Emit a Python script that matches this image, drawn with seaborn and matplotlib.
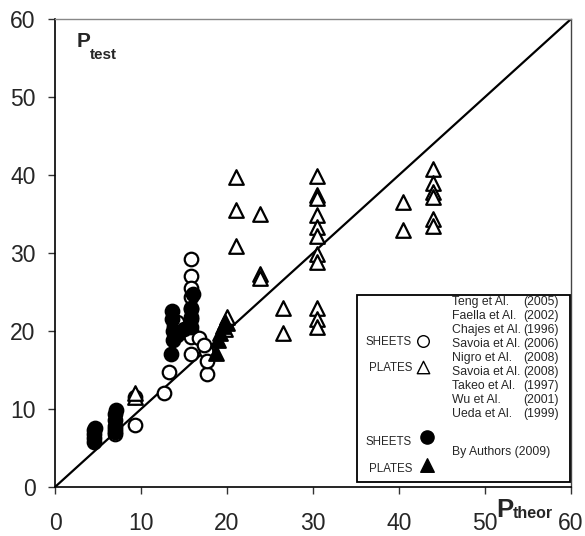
import matplotlib
matplotlib.use("Agg")
import matplotlib.pyplot as plt
import seaborn as sns
import pandas as pd
from matplotlib.patches import Rectangle

# ---------------- data ----------------
open_circle_x = [7.0, 7.0, 9.3, 9.3, 12.7, 13.2, 13.8, 14.2, 15.8, 15.8, 15.8, 15.8, 15.8,
                 15.8, 15.8, 15.8, 15.8, 16.8, 17.5, 17.7, 17.7, 17.3]
open_circle_y = [6.8, 7.4, 7.9, 11.6, 12.1, 14.7, 20.6, 21.2, 29.2, 27.0, 25.5, 24.3, 23.0,
                 21.5, 20.0, 17.0, 19.2, 19.1, 17.5, 14.5, 16.2, 18.2]

filled_circle_x = [4.5, 4.5, 4.5, 4.5, 4.6, 7.0, 7.0, 7.0, 7.0, 7.1, 13.5, 13.7, 13.7, 13.6,
                   13.6, 14.2, 15.8, 15.8, 15.8, 16.0, 15.0]
filled_circle_y = [5.8, 6.3, 6.8, 7.3, 7.6, 7.0, 7.8, 8.6, 9.3, 9.9, 17.0, 18.8, 20.0, 21.5,
                   22.6, 19.5, 20.5, 21.8, 22.8, 24.8, 20.3]

open_tri_x = [9.3, 9.3, 19.8, 20.0, 20.0, 21.0, 21.0, 21.0, 23.8, 23.8, 23.8, 26.5, 26.5,
              30.5, 30.5, 30.5, 30.5, 30.5, 30.5, 30.5, 30.5, 30.5, 30.5, 30.5,
              40.5, 40.5, 44.0, 44.0, 44.0, 44.0, 44.0, 44.0]
open_tri_y = [11.6, 12.0, 20.3, 21.0, 21.8, 39.8, 35.5, 30.9, 35.0, 27.3, 26.8, 22.9, 19.7,
              39.9, 37.5, 37.0, 34.9, 33.3, 32.2, 29.9, 28.9, 22.9, 21.6, 20.5,
              36.6, 33.0, 40.8, 39.0, 37.8, 37.2, 34.4, 33.4]

filled_tri_x = [18.7, 19.0, 19.2, 19.5, 19.8]
filled_tri_y = [17.2, 18.9, 19.8, 20.6, 21.2]

axis_limits = [0, 60]
tick_values = [0, 10, 20, 30, 40, 50, 60]

literature_names = ["Teng et Al.", "Faella et Al.", "Chajes et Al.", "Savoia et Al.",
                    "Nigro et Al.", "Savoia et Al.", "Takeo et Al.", "Wu et Al.", "Ueda et Al."]
literature_years = ["(2005)", "(2002)", "(1996)", "(2006)", "(2008)", "(2008)", "(1997)",
                    "(2001)", "(1999)"]

# ---------------- style ----------------
sns.set_style("ticks")
plt.rcParams["font.family"] = ["Liberation Sans", "DejaVu Sans"]

fig = plt.figure(figsize=(5.85, 5.36), dpi=100)
ax = fig.add_axes([55 / 585, 49 / 536, 516 / 585, 468 / 536])

# diagonal y = x
ax.plot(axis_limits, axis_limits, color="black", lw=1.6, zorder=1)

ms_circle = 95
ms_tri = 110
lw_m = 1.6

sns.scatterplot(x=open_circle_x, y=open_circle_y, marker="o", s=ms_circle, color="white",
                edgecolor="black", linewidth=lw_m, ax=ax, zorder=3)
sns.scatterplot(x=open_tri_x, y=open_tri_y, marker="^", s=ms_tri, color="white",
                edgecolor="black", linewidth=lw_m, ax=ax, zorder=3)
sns.scatterplot(x=filled_circle_x, y=filled_circle_y, marker="o", s=ms_circle, color="black",
                edgecolor="black", linewidth=lw_m, ax=ax, zorder=4)
sns.scatterplot(x=filled_tri_x, y=filled_tri_y, marker="^", s=ms_tri, color="black",
                edgecolor="black", linewidth=lw_m, ax=ax, zorder=4)

ax.set_xlim(axis_limits)
ax.set_ylim(axis_limits)
ax.set_xticks(tick_values)
ax.set_yticks(tick_values)
ax.set_xticklabels([str(v) for v in tick_values])
ax.set_yticklabels([str(v) for v in tick_values])
ax.tick_params(axis="both", labelsize=16.5, length=5, width=1, direction="out", color="#333333")
ax.tick_params(axis="x", pad=13)
ax.tick_params(axis="y", pad=9)
ax.set_xlabel("")
ax.set_ylabel("")

for side in ["left", "bottom"]:
    ax.spines[side].set_linewidth(1.2)
    ax.spines[side].set_color("black")
ax.spines["top"].set_visible(True)
ax.spines["right"].set_visible(True)
ax.spines["top"].set_color("#888888")
ax.spines["top"].set_linewidth(1.0)
ax.spines["right"].set_color("#444444")
ax.spines["right"].set_linewidth(1.0)

# axis titles
ax.text(0.041, 0.940, "P", transform=ax.transAxes, fontsize=15, fontweight="bold",
        ha="left", va="baseline")
ax.text(0.068, 0.914, "test", transform=ax.transAxes, fontsize=11, fontweight="bold",
        ha="left", va="baseline")
ax.text(0.856, -0.064, "P", transform=ax.transAxes, fontsize=18.5, fontweight="bold",
        ha="left", va="baseline", clip_on=False)
ax.text(0.888, -0.066, "theor", transform=ax.transAxes, fontsize=11.5, fontweight="bold",
        ha="left", va="baseline", clip_on=False)

# legend box
box = Rectangle((0.585, 0.011), 0.413, 0.399, transform=ax.transAxes, facecolor="white",
                edgecolor="black", linewidth=1.3, zorder=6)
ax.add_patch(box)

fs_leg = 8.8
name_x = 0.769
year_x = 0.977
top_y = 0.388
step = 0.0297
for i, (n, yr) in enumerate(zip(literature_names, literature_years)):
    yy = top_y - i * step
    ax.text(name_x, yy, n, transform=ax.transAxes, fontsize=fs_leg, ha="left",
            va="baseline", zorder=7)
    ax.text(year_x, yy, yr, transform=ax.transAxes, fontsize=fs_leg, ha="right",
            va="baseline", zorder=7)

ax.text(0.692, 0.303, "SHEETS", transform=ax.transAxes, fontsize=8.3, ha="right",
        va="baseline", zorder=7)
ax.text(0.692, 0.247, "PLATES", transform=ax.transAxes, fontsize=8.3, ha="right",
        va="baseline", zorder=7)
ax.text(0.692, 0.089, "SHEETS", transform=ax.transAxes, fontsize=8.3, ha="right",
        va="baseline", zorder=7)
ax.text(0.692, 0.033, "PLATES", transform=ax.transAxes, fontsize=8.3, ha="right",
        va="baseline", zorder=7)
ax.text(name_x, 0.068, "By Authors (2009)", transform=ax.transAxes, fontsize=fs_leg,
        ha="left", va="baseline", zorder=7)

ax.scatter([0.713], [0.311], marker="o", s=70, facecolor="white", edgecolor="black",
           linewidth=1.0, transform=ax.transAxes, zorder=8, clip_on=False)
ax.scatter([0.713], [0.257], marker="^", s=80, facecolor="white", edgecolor="black",
           linewidth=1.0, transform=ax.transAxes, zorder=8, clip_on=False)
ax.scatter([0.721], [0.106], marker="o", s=90, facecolor="black", edgecolor="black",
           linewidth=1.0, transform=ax.transAxes, zorder=8, clip_on=False)
ax.scatter([0.721], [0.048], marker="^", s=95, facecolor="black", edgecolor="black",
           linewidth=1.0, transform=ax.transAxes, zorder=8, clip_on=False)

fig.savefig("out.png", dpi=100)
